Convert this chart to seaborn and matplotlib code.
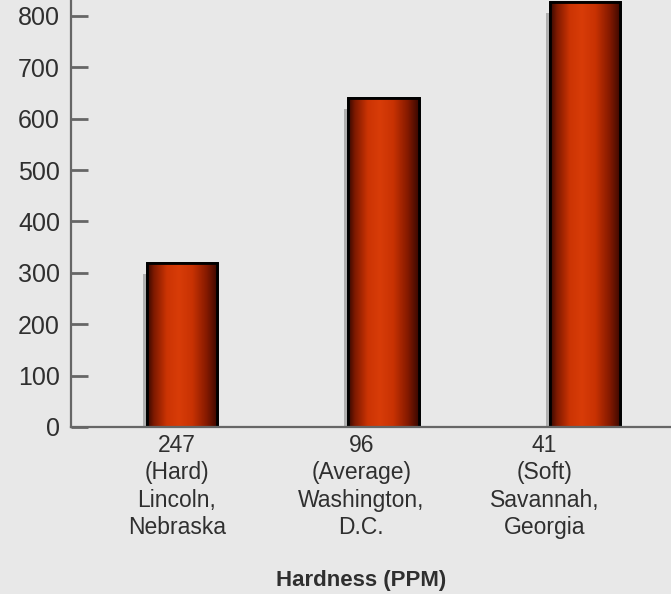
import numpy as np
import pandas as pd
import matplotlib
matplotlib.use("Agg")
import matplotlib.pyplot as plt
from matplotlib.colors import LinearSegmentedColormap
from matplotlib.patches import Rectangle
import seaborn as sns

# Water hardness (PPM) by city and the plotted quantity
hardness = ["247", "96", "41"]
grade = ["(Hard)", "(Average)", "(Soft)"]
city = ["Lincoln,\nNebraska", "Washington,\nD.C.", "Savannah,\nGeorgia"]
values = [319, 640, 828]
y_ticks = [0, 100, 200, 300, 400, 500, 600, 700, 800]

tick_labels = [f"{h}\n{g}\n{c}" for h, g, c in zip(hardness, grade, city)]
df = pd.DataFrame({"label": tick_labels, "value": values})

sns.set_theme(style="white")
plt.rcParams["font.family"] = ["Liberation Sans", "DejaVu Sans"]

bg = "#e8e8e8"
text_col = "#2f2f2f"
axis_col = "#666666"

fig = plt.figure(figsize=(6.71, 5.94), dpi=100, facecolor=bg)
ax = fig.add_axes([71 / 671, (594 - 427) / 594, 1 - 71 / 671, 427 / 594])
ax.set_facecolor(bg)

sns.barplot(data=df, x="label", y="value", ax=ax, width=0.352,
            color="#c83200", edgecolor="black", linewidth=2.0, zorder=3)

ax.set_xlim(-0.551, 2.427)
ax.set_ylim(0, 831)

# cylindrical shading across each bar
shade = LinearSegmentedColormap.from_list(
    "cyl",
    [(0.00, "#330700"), (0.10, "#801a00"), (0.28, "#cc3404"),
     (0.45, "#d83c08"), (0.64, "#c83203"), (0.84, "#861a00"),
     (1.00, "#3a0800")])
grad = np.linspace(0, 1, 256).reshape(1, -1)

for p in list(ax.patches):
    x0, w, h = p.get_x(), p.get_width(), p.get_height()
    # soft drop shadow on the left side
    ax.add_patch(Rectangle((x0 - 0.018, 0), 0.03, h - 22, facecolor="#8c8c8c",
                           edgecolor="none", alpha=0.6, zorder=2))
    im = ax.imshow(grad, cmap=shade, aspect="auto", extent=[x0, x0 + w, 0, h],
                   zorder=3.5, interpolation="bilinear")
    im.set_clip_path(p)
    ax.add_patch(Rectangle((x0, 0), w, h, fill=False, edgecolor="black",
                           linewidth=2.0, zorder=4))

ax.set_ylim(0, 831)
ax.set_xlim(-0.551, 2.427)

ax.set_yticks(y_ticks)
ax.set_yticklabels([str(t) for t in y_ticks], fontsize=18, color=text_col)
ax.tick_params(axis="y", direction="in", length=12, width=2, color=axis_col, pad=8, left=True)

ax.set_xticks([-0.025, 0.89, 1.80])
ax.set_xticklabels(tick_labels, fontsize=16.5, color=text_col, linespacing=1.25)
ax.tick_params(axis="x", length=0, pad=5)

ax.set_xlabel("Hardness (PPM)", fontsize=16, fontweight="bold", color=text_col)
ax.xaxis.set_label_coords((361 - 71) / 600, -(570 - 427) / 427)
ax.set_ylabel("")

for s in ["top", "right"]:
    ax.spines[s].set_visible(False)
for s in ["left", "bottom"]:
    ax.spines[s].set_color(axis_col)
    ax.spines[s].set_linewidth(1.6)
ax.spines["left"].set_zorder(5)
ax.spines["bottom"].set_zorder(5)

fig.savefig("out.png", dpi=100, facecolor=bg)
